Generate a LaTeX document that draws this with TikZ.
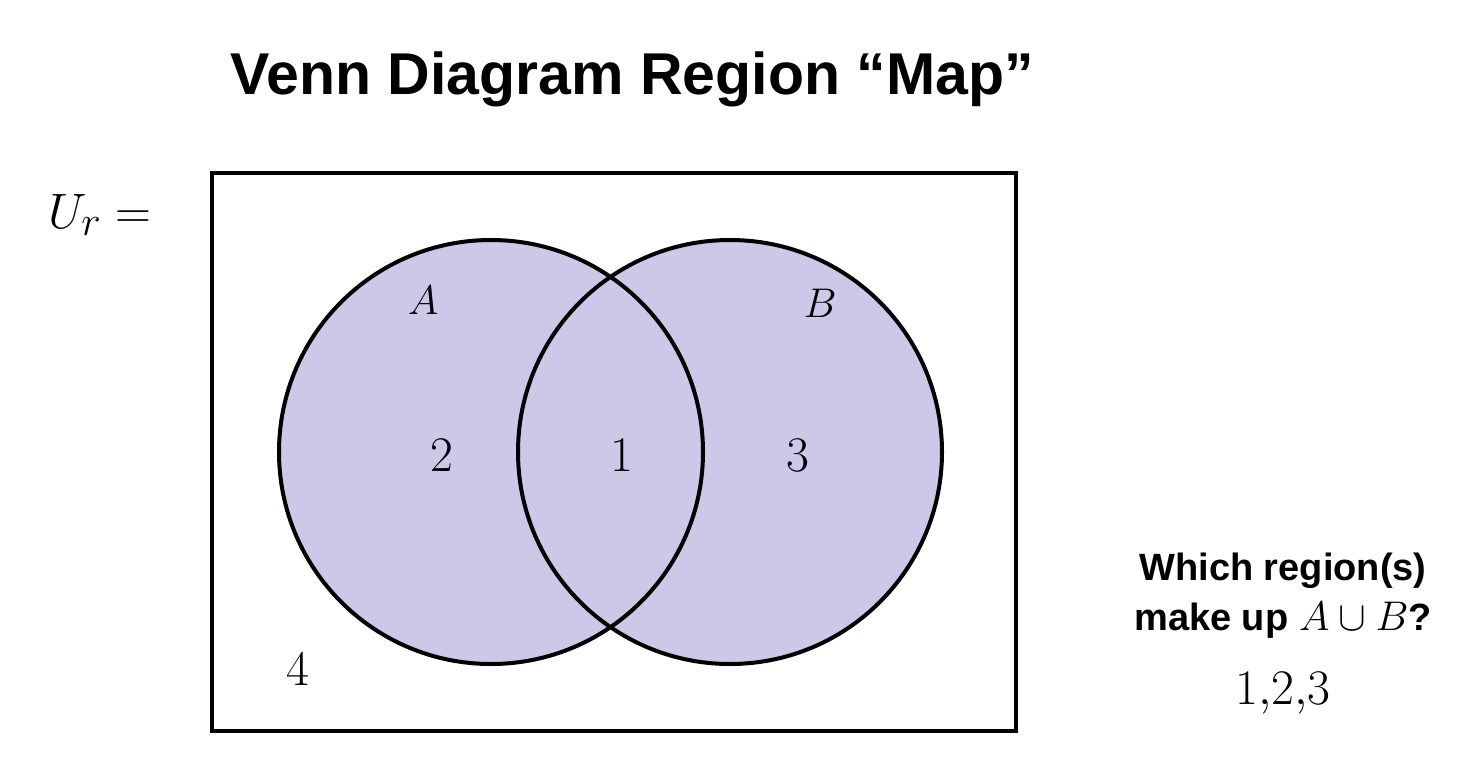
\documentclass[tikz,border=0pt]{standalone}
\usepackage{amsmath,amssymb}
\usepackage{fontspec}
\newfontfamily\headfont{Liberation Sans Bold}
\newfontfamily\askfont{Liberation Sans Bold}
\usetikzlibrary{positioning}
\definecolor{vennlilac}{RGB}{204,200,232}
\tikzset{
  setline/.style={line width=2pt,draw=black},
  regionlbl/.style={font=\fontsize{31}{33}\selectfont,inner sep=0pt},
  setlbl/.style={font=\fontsize{22}{24}\selectfont,inner sep=0pt}
}

\begin{document}
\begin{tikzpicture}[x=.5pt,y=-.5pt]
    \useasboundingbox (0,0) rectangle (1484,778);
    % title
    \node[font=\headfont\fontsize{29.5}{32}\selectfont,anchor=base] (title) at (632,94) {Venn Diagram Region “Map”};
    % universe
    \node[anchor=base west,inner sep=0pt,font=\fontsize{32}{34}\selectfont] (ulbl) at (48,228) {$U_r=$};
    \draw[setline] (212,173) rectangle (1016,731);
    \fill[vennlilac] (491,452) circle (212) (730,452) circle (212);
    \draw[setline] (491,452) circle (212);
    \draw[setline] (730,452) circle (212);
    \node[setlbl,anchor=base] (lblA) at (423,314) {$A$};
    \node[setlbl,anchor=base] (lblB) at (820,317) {$B$};
    \node[regionlbl,anchor=base] (r2) at (442,471) {$2$};
    \node[regionlbl,anchor=base] (r1) at (622,471) {$1$};
    \node[regionlbl,anchor=base] (r3) at (798,471) {$3$};
    \node[regionlbl,anchor=base] (r4) at (298,685) {$4$};
    % question
    \node[font=\askfont\fontsize{19}{25}\selectfont,anchor=base,align=center] (ask) at (1283,630) {Which region(s)\\make up {\fontsize{21}{25}\selectfont$A\cup B$}?};
    \node[font=\fontsize{24}{26}\selectfont,anchor=base] (ans) at (1283,704) {$1{,}2{,}3$};
\end{tikzpicture}
\end{document}
